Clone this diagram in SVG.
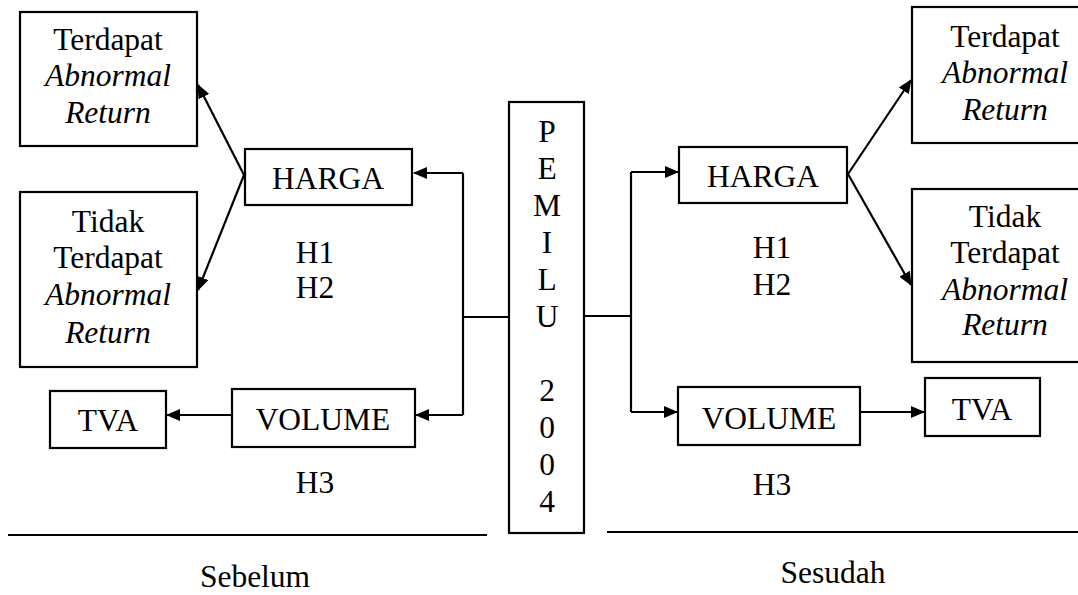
<svg xmlns="http://www.w3.org/2000/svg" width="1078" height="595" viewBox="0 0 1078 595">
<style>
text{font-family:"Liberation Serif","Times New Roman",serif;font-size:31.5px;fill:#000;text-anchor:middle}
.it{font-style:italic}
.box{fill:#fff;stroke:#000;stroke-width:2.2}
.ln{fill:none;stroke:#000;stroke-width:2.2}
</style>
<defs>
<marker id="ah" markerUnits="userSpaceOnUse" markerWidth="14" markerHeight="12" refX="13" refY="6" orient="auto">
<path d="M0,0 L14,6 L0,12 z" fill="#000"/>
</marker>
</defs>
<rect width="1078" height="595" fill="#fff"/>
<g id="connectors">
<path class="ln" d="M509,317 H463 M463,173 V415"/>
<line class="ln" x1="463" y1="173" x2="414" y2="173" marker-end="url(#ah)"/>
<line class="ln" x1="463" y1="415" x2="416" y2="415" marker-end="url(#ah)"/>
<line class="ln" x1="244" y1="175" x2="198" y2="85" marker-end="url(#ah)"/>
<line class="ln" x1="244" y1="175" x2="198" y2="290" marker-end="url(#ah)"/>
<line class="ln" x1="232" y1="415" x2="167" y2="415" marker-end="url(#ah)"/>
<path class="ln" d="M584,316 H631 M631,172 V412"/>
<line class="ln" x1="631" y1="172" x2="678" y2="172" marker-end="url(#ah)"/>
<line class="ln" x1="631" y1="412" x2="677" y2="412" marker-end="url(#ah)"/>
<line class="ln" x1="848" y1="174" x2="911" y2="80" marker-end="url(#ah)"/>
<line class="ln" x1="848" y1="174" x2="911" y2="285" marker-end="url(#ah)"/>
<line class="ln" x1="860" y1="412" x2="924" y2="412" marker-end="url(#ah)"/>
<line class="ln" x1="8" y1="535" x2="487" y2="535"/>
<line class="ln" x1="607" y1="532" x2="1078" y2="532"/>
</g>
<g id="pemilu">
<rect class="box" x="509" y="102" width="75" height="431"/>
<text x="547" y="142">P</text>
<text x="547" y="179">E</text>
<text x="547" y="216">M</text>
<text x="547" y="253">I</text>
<text x="547" y="290">L</text>
<text x="547" y="327">U</text>
<text x="547" y="401">2</text>
<text x="547" y="438">0</text>
<text x="547" y="475">0</text>
<text x="547" y="512">4</text>
</g>
<g id="left-ar-yes">
<rect class="box" x="20" y="12" width="177" height="134"/>
<text x="108" y="50">Terdapat</text>
<text class="it" x="108" y="86">Abnormal</text>
<text class="it" x="108" y="123">Return</text>
</g>
<g id="left-ar-no">
<rect class="box" x="20" y="192" width="177" height="175"/>
<text x="108" y="232">Tidak</text>
<text x="108" y="268">Terdapat</text>
<text class="it" x="108" y="305">Abnormal</text>
<text class="it" x="108" y="343">Return</text>
</g>
<g id="left-harga">
<rect class="box" x="245" y="149" width="167" height="56"/>
<text x="328" y="189">HARGA</text>
</g>
<g id="left-h12">
<text x="315" y="263">H1</text>
<text x="315" y="298">H2</text>
</g>
<g id="left-volume">
<rect class="box" x="232" y="389" width="183" height="58"/>
<text x="323" y="430">VOLUME</text>
</g>
<g id="left-tva">
<rect class="box" x="50" y="391" width="116" height="57"/>
<text x="108" y="431">TVA</text>
</g>
<g id="left-h3"><text x="315" y="493">H3</text></g>
<g id="right-harga">
<rect class="box" x="679" y="147" width="168" height="56"/>
<text x="763" y="187">HARGA</text>
</g>
<g id="right-h12">
<text x="772" y="258">H1</text>
<text x="772" y="295">H2</text>
</g>
<g id="right-ar-yes">
<rect class="box" x="912" y="7" width="175" height="136"/>
<text x="1005" y="47">Terdapat</text>
<text class="it" x="1005" y="83">Abnormal</text>
<text class="it" x="1005" y="120">Return</text>
</g>
<g id="right-ar-no">
<rect class="box" x="912" y="189" width="175" height="173"/>
<text x="1005" y="227">Tidak</text>
<text x="1005" y="263">Terdapat</text>
<text class="it" x="1005" y="300">Abnormal</text>
<text class="it" x="1005" y="335">Return</text>
</g>
<g id="right-volume">
<rect class="box" x="678" y="387" width="182" height="58"/>
<text x="769" y="429">VOLUME</text>
</g>
<g id="right-tva">
<rect class="box" x="925" y="378" width="115" height="58"/>
<text x="982" y="420">TVA</text>
</g>
<g id="right-h3"><text x="772" y="495">H3</text></g>
<g id="labels">
<text x="255" y="587">Sebelum</text>
<text x="833" y="583">Sesudah</text>
</g>
</svg>
